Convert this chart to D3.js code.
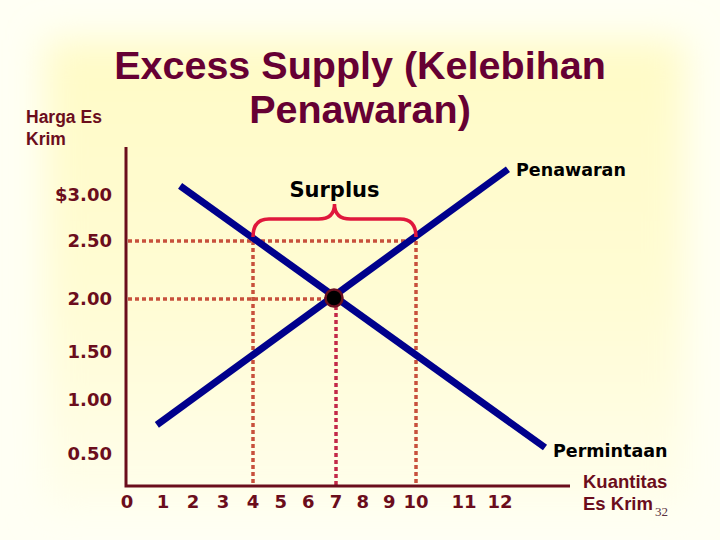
<!DOCTYPE html>
<html><head><meta charset="utf-8">
<script src="https://cdn.jsdelivr.net/npm/d3@7"></script>
<style>html,body{margin:0;padding:0;background:#fffff2;}svg{display:block;}</style>
</head><body>
<script>
// ---- data ----
const titleLines = ["Excess Supply (Kelebihan", "Penawaran)"];
const priceTicks = [0.5, 1.0, 1.5, 2.0, 2.5, 3.0];
const priceLabels = ["0.50", "1.00", "1.50", "2.00", "2.50", "$3.00"];
const qtyTicks = [0,1,2,3,4,5,6,7,8,9,10,11,12];
const qtyLabels = ["0","1","2","3","4","5","6","7","8","9","10","11","12"];
const supplyQ = [0.83, 12.22];
const supplyP = [0.77, 3.28];
const demandQ = [1.57, 13.25];
const demandP = [3.10, 0.56];
const equilibrium = {q: 7, p: 2.0};
const surplusPrice = 2.5;
const surplusQd = 4;   // quantity demanded at $2.50
const surplusQs = 10;  // quantity supplied at $2.50

const W = 720, H = 540;
const svg = d3.select("body").append("svg").attr("width", W).attr("height", H);

// background
const defs = svg.append("defs");
const bl = defs.append("filter").attr("id","blur").attr("x","-20%").attr("y","-20%").attr("width","140%").attr("height","140%");
bl.append("feGaussianBlur").attr("stdDeviation", 18);
const lg = defs.append("linearGradient").attr("id","bg").attr("x1",0).attr("y1",0).attr("x2",0).attr("y2",1);
lg.append("stop").attr("offset","0%").attr("stop-color","#fffbc6");
lg.append("stop").attr("offset","55%").attr("stop-color","#fffcd4");
lg.append("stop").attr("offset","100%").attr("stop-color","#fffeec");
svg.append("rect").attr("width",W).attr("height",H).attr("fill","#fffff4");
svg.append("rect").attr("x",45).attr("y",40).attr("width",640).attr("height",470)
  .attr("fill","url(#bg)").attr("filter","url(#blur)");

// scales (the slide's ticks are hand-placed, so piecewise-linear)
const x = d3.scaleLinear().domain([0,1,4,7,10,11,12]).range([127,163,253,336,416,464,500]);
const y = d3.scaleLinear().domain([0.5,1.0,1.5,2.0,2.5,3.0]).range([454,400,352,299,241,195]);

const axisColor = "#6b0d1c";
const x0 = 126, yTop = 147, yBase = 486, xRight = 570;

// title
const title = svg.append("text").attr("text-anchor","middle")
  .attr("font-family","'Liberation Sans', Arial, sans-serif").attr("font-weight","bold")
  .attr("font-size", 39.5).attr("fill","#660033");
titleLines.forEach((t,i)=> title.append("tspan").attr("x",360).attr("y", 79 + i*44).text(t));

// axis titles
const yt = svg.append("text").attr("font-family","'Liberation Sans', Arial, sans-serif")
  .attr("font-weight","bold").attr("font-size",17.5).attr("fill",axisColor);
yt.append("tspan").attr("x",26).attr("y",123).text("Harga Es");
yt.append("tspan").attr("x",26).attr("y",145).text("Krim");
const xt = svg.append("text").attr("font-family","'Liberation Sans', Arial, sans-serif")
  .attr("font-weight","bold").attr("font-size",18.5).attr("fill",axisColor);
xt.append("tspan").attr("x",583).attr("y",488).text("Kuantitas");
xt.append("tspan").attr("x",583).attr("y",510).text("Es Krim");

// dotted guide lines
const dash = "4,3";
const guide = svg.append("g").attr("fill","none").attr("stroke-width",3.5).attr("stroke-dasharray",dash);
guide.append("line").attr("x1",x0+2).attr("x2",x(surplusQs)).attr("y1",y(surplusPrice)).attr("y2",y(surplusPrice)).attr("stroke","#c8503c");
guide.append("line").attr("x1",x0+2).attr("x2",x(equilibrium.q)).attr("y1",y(equilibrium.p)).attr("y2",y(equilibrium.p)).attr("stroke","#c8503c");
guide.append("line").attr("x1",x(surplusQd)).attr("x2",x(surplusQd)).attr("y1",y(surplusPrice)).attr("y2",yBase).attr("stroke","#c8503c");
guide.append("line").attr("x1",x(surplusQs)).attr("x2",x(surplusQs)).attr("y1",y(surplusPrice)).attr("y2",yBase).attr("stroke","#c8503c");
guide.append("line").attr("x1",x(equilibrium.q)).attr("x2",x(equilibrium.q)).attr("y1",y(equilibrium.p)).attr("y2",yBase).attr("stroke","#c32848");

// axes
svg.append("path").attr("d", `M${x0},${yTop}V${yBase}H${xRight}`).attr("fill","none")
  .attr("stroke",axisColor).attr("stroke-width",3);

// tick labels
svg.append("g").selectAll("text").data(priceTicks).join("text")
  .attr("x",112).attr("y",d=>y(d)).attr("dy","0.36em").attr("text-anchor","end")
  .attr("font-family","'DejaVu Sans', Verdana, sans-serif").attr("font-weight","bold")
  .attr("font-size",18).attr("fill",axisColor).text((d,i)=>priceLabels[i]);
svg.append("g").selectAll("text").data(qtyTicks).join("text")
  .attr("x",d=>x(d)).attr("y",508).attr("text-anchor","middle")
  .attr("font-family","'DejaVu Sans', Verdana, sans-serif").attr("font-weight","bold")
  .attr("font-size",18).attr("fill",axisColor).text((d,i)=>qtyLabels[i]);

// supply & demand
const line = d3.line().x(d=>x(d[0])).y(d=>y(d[1]));
const supply = supplyQ.map((q,i)=>[q, supplyP[i]]);
const demand = demandQ.map((q,i)=>[q, demandP[i]]);
svg.append("path").attr("d", line(demand)).attr("stroke","#00008c").attr("stroke-width",7).attr("fill","none");
svg.append("path").attr("d", line(supply)).attr("stroke","#00008c").attr("stroke-width",7).attr("fill","none");

// equilibrium point
svg.append("circle").attr("cx",x(equilibrium.q)-2).attr("cy",y(equilibrium.p)-1).attr("r",8.5)
  .attr("fill","#000").attr("stroke","#6b1020").attr("stroke-width",2.5);

// brace
const bx1 = x(surplusQd), bx2 = x(surplusQs), bm = (bx1+bx2)/2, by = y(surplusPrice);
const r = 16;
svg.append("path").attr("d",
  `M${bx1},${by-4} Q${bx1},${by-22} ${bx1+r},${by-22} L${bm-r},${by-22} Q${bm},${by-22} ${bm},${by-37}` +
  ` Q${bm},${by-22} ${bm+r},${by-22} L${bx2-r},${by-22} Q${bx2},${by-22} ${bx2},${by-4}`)
  .attr("fill","none").attr("stroke","#e0183c").attr("stroke-width",3.5);

// labels
const lab = {"font-family":"'DejaVu Sans', Verdana, sans-serif","font-weight":"bold","fill":"#000"};
const surplus = svg.append("text").attr("x",bm).attr("y",197).attr("text-anchor","middle").attr("font-size",21).text("Surplus");
const pen = svg.append("text").attr("x",516).attr("y",176).attr("font-size",17.5).text("Penawaran");
const per = svg.append("text").attr("x",553).attr("y",457).attr("font-size",17.5).text("Permintaan");
[surplus,pen,per].forEach(s=>Object.entries(lab).forEach(([k,v])=>s.attr(k,v)));

// slide number
svg.append("text").attr("x",655).attr("y",516).attr("font-family","'Liberation Serif', 'Times New Roman', serif")
  .attr("font-size",13).attr("fill","#5a3040").text("32");
</script>
</body></html>
